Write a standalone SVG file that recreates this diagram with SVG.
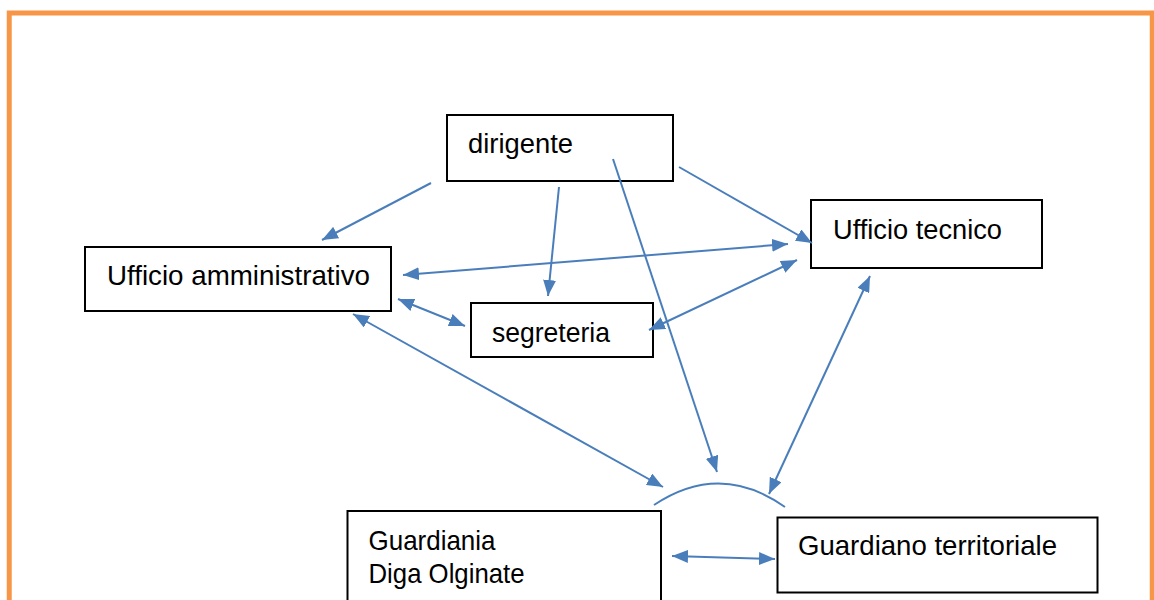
<svg xmlns="http://www.w3.org/2000/svg" width="1154" height="600" viewBox="0 0 1154 600">
<defs>
<style>
.box{fill:#fff;stroke:#000;stroke-width:2}
.lbl{font-family:"Liberation Sans",Arial,sans-serif;font-size:27.5px;fill:#000}
.c{stroke:#4A7EBB;stroke-width:2;fill:none}
</style>
<marker id="ah" markerUnits="userSpaceOnUse" markerWidth="16" markerHeight="13" refX="16" refY="6.5" orient="auto-start-reverse" viewBox="0 0 16 13">
<path d="M0,0 L16,6.5 L0,13 z" fill="#4A7EBB"/>
</marker>
</defs>
<rect x="0" y="0" width="1154" height="600" fill="#fff"/>
<rect x="9.25" y="13" width="1143" height="700" fill="none" stroke="#F79646" stroke-width="5"/>
<g id="n-dirigente"><rect class="box" x="447" y="115" width="226" height="66"/><text class="lbl" x="468" y="153" textLength="105" lengthAdjust="spacingAndGlyphs">dirigente</text></g>
<g id="n-amministrativo"><rect class="box" x="85" y="247" width="306" height="64"/><text class="lbl" x="107" y="285" textLength="263" lengthAdjust="spacingAndGlyphs">Ufficio amministrativo</text></g>
<g id="n-tecnico"><rect class="box" x="811" y="200" width="231" height="68"/><text class="lbl" x="833" y="239" textLength="169" lengthAdjust="spacingAndGlyphs">Ufficio tecnico</text></g>
<g id="n-segreteria"><rect class="box" x="471" y="303" width="182" height="54"/><text class="lbl" x="492" y="341.5" textLength="118" lengthAdjust="spacingAndGlyphs">segreteria</text></g>
<g id="n-guardiania"><rect class="box" x="347.5" y="511" width="313.5" height="120"/><text class="lbl" x="368.5" y="550" textLength="127" lengthAdjust="spacingAndGlyphs">Guardiania</text><text class="lbl" x="368.5" y="582.5" textLength="156" lengthAdjust="spacingAndGlyphs">Diga Olginate</text></g>
<g id="n-guardiano"><rect class="box" x="777.5" y="517.5" width="320" height="75"/><text class="lbl" x="798" y="555" textLength="259" lengthAdjust="spacingAndGlyphs">Guardiano territoriale</text></g>
<g id="connectors">
<path class="c" d="M654,505 Q720,461 785,507"/>
<line class="c" x1="431" y1="183" x2="322" y2="240" marker-end="url(#ah)"/>
<line class="c" x1="559" y1="187" x2="548" y2="296" marker-end="url(#ah)"/>
<line class="c" x1="613" y1="159" x2="717" y2="472" marker-end="url(#ah)"/>
<line class="c" x1="679" y1="167" x2="812" y2="243" marker-end="url(#ah)"/>
<line class="c" x1="403" y1="275" x2="788" y2="244" marker-start="url(#ah)" marker-end="url(#ah)"/>
<line class="c" x1="398" y1="299" x2="465" y2="326" marker-start="url(#ah)" marker-end="url(#ah)"/>
<line class="c" x1="649" y1="330" x2="797" y2="260" marker-start="url(#ah)" marker-end="url(#ah)"/>
<line class="c" x1="353" y1="314" x2="663" y2="487" marker-start="url(#ah)" marker-end="url(#ah)"/>
<line class="c" x1="870" y1="276" x2="769" y2="494" marker-start="url(#ah)" marker-end="url(#ah)"/>
<line class="c" x1="672" y1="556" x2="775" y2="559" marker-start="url(#ah)" marker-end="url(#ah)"/>
</g>
</svg>
